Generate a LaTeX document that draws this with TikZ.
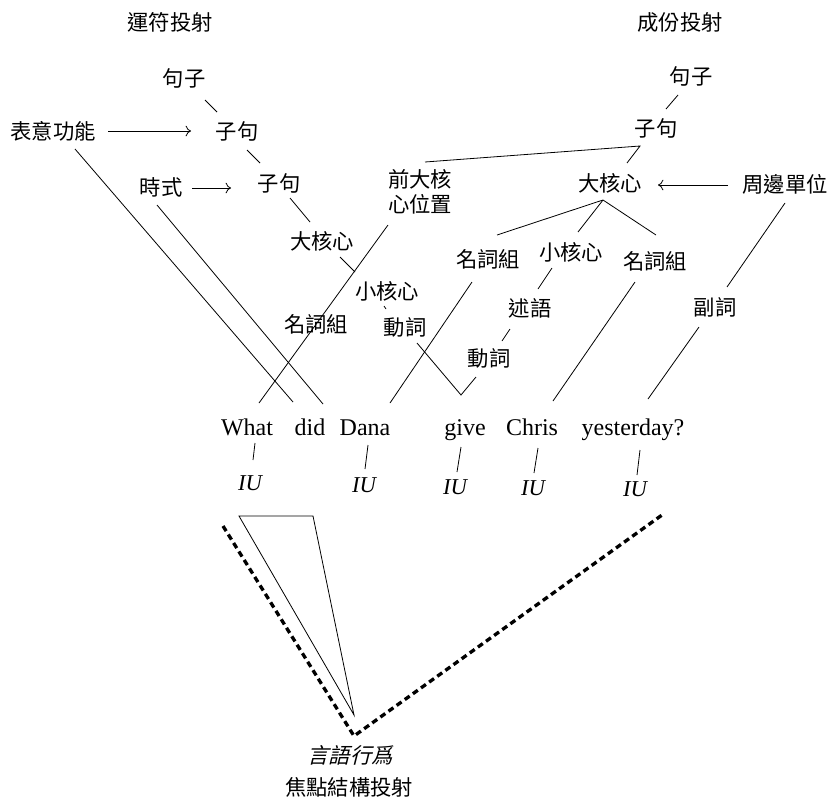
\documentclass[tikz,border=0pt]{standalone}
\usepackage{fontspec}
\setmainfont{Liberation Serif}
\newfontfamily\cjk{Noto Sans CJK TC}
\newfontfamily\cjkslant[FakeSlant=0.25]{Noto Sans CJK TC}
\usetikzlibrary{calc,arrows.meta}

\begin{document}
\begin{tikzpicture}[x=0.75pt, y=-0.75pt, line width=0.6pt,
	zh/.style={font=\cjk\fontsize{16}{18.75}\selectfont, inner sep=0pt, align=center},
	word/.style={font=\fontsize{18}{20}\selectfont, anchor=base, inner sep=0pt},
	iu/.style={font=\itshape\fontsize{17}{19}\selectfont, anchor=base, inner sep=0pt},
	feed/.style={-{To[length=4pt, width=8pt]}},
	focus/.style={line width=2.5pt, dash pattern=on 4.5pt off 3pt}]
	\useasboundingbox (0,0) rectangle (830,804);
	% titles
	\node[zh] (opproj) at (170,22) {運符投射};
	\node[zh] (conproj) at (680,22) {成份投射};
	% operator projection
	\node[zh] (lsent) at (184,78) {句子};
	\node[zh] (lcl1) at (237,131) {子句};
	\node[zh] (lcl2) at (279,183) {子句};
	\node[zh] (lcore) at (322,241) {大核心};
	\node[zh] (lnuc) at (387,291) {小核心};
	\node[zh] (lv) at (405,327) {動詞};
	\node[zh] (lnp) at (316,324) {名詞組};
	\node[zh] (illf) at (53,131) {表意功能};
	\node[zh] (tns) at (161,187) {時式};
	% constituent projection
	\node[zh] (rsent) at (691,76) {句子};
	\node[zh] (rcl) at (656,128) {子句};
	\node[zh] (precore) at (420,192) {前大核\\心位置};
	\node[zh] (rcore) at (610,183) {大核心};
	\node[zh] (periph) at (785,184) {周邊單位};
	\node[zh] (np1) at (488,259) {名詞組};
	\node[zh] (rnuc) at (571,252) {小核心};
	\node[zh] (np2) at (655,261) {名詞組};
	\node[zh] (pred) at (530,308) {述語};
	\node[zh] (rv) at (489,358) {動詞};
	\node[zh] (adv) at (715,307) {副詞};
	% sentence
	\node[word] (what) at (247,435) {What};
	\node[word] (did) at (310,435) {did};
	\node[word] (dana) at (365,435) {Dana};
	\node[word] (give) at (465,435) {give};
	\node[word] (chris) at (532,435) {Chris};
	\node[word] (yest) at (633,435) {yesterday?};
	\node[iu] (iu1) at (250,490) {IU};
	\node[iu] (iu2) at (364,492) {IU};
	\node[iu] (iu3) at (455,494) {IU};
	\node[iu] (iu4) at (533,495) {IU};
	\node[iu] (iu5) at (635,496) {IU};
	% focus structure projection
	\node[zh, font=\cjkslant\fontsize{16}{18.75}\selectfont] (speech) at (350,755) {言語行爲};
	\node[zh] (focproj) at (349,787) {焦點結構投射};

	\draw ($(lsent)+(21,22)$) -- ($(lcl1)+(-20,-19)$);
	\draw ($(lcl1)+(10,19)$) -- ($(lcl2)+(-19,-20)$);
	\draw ($(lcl2)+(11,15)$) -- ($(lcore)+(-12,-19)$);
	\draw ($(lcore)+(18,16)$) -- ($(lnuc)+(-32,-19)$);
	\draw ($(lnuc)+(-3,15)$) -- ($(lv)+(-19,-18)$);
	\draw ($(lv)+(12,16)$) -- ($(give.base)+(-4,-40)$) -- ($(rv)+(-13,19)$);
	\draw ($(rv)+(13,-17)$) -- ($(pred)+(-20,21)$);
	\draw ($(pred)+(8,-19)$) -- ($(rnuc)+(-19,16)$);
	\draw ($(np1)+(9,-24)$) -- ($(rcore)+(-7,17)$) -- ($(np2)+(1,-26)$);
	\draw ($(rcore)+(-7,17)$) -- ($(rnuc)+(7,-20)$);
	\draw ($(precore)+(5,-30)$) -- ($(rcl)+(-16,18)$) -- ($(rcore)+(17,-20)$);
	\draw ($(rsent)+(-13,19)$) -- ($(rcl)+(10,-19)$);
	\draw[feed] ($(illf)+(55,0)$) -- ($(lcl1)+(-46,0)$);
	\draw[feed] ($(tns)+(31,1)$) -- ($(lcl2)+(-48,5)$);
	\draw[feed] ($(periph)+(-57,1)$) -- ($(rcore)+(48,2)$);
	\draw ($(illf)+(22,18)$) -- ($(did.base)+(-17,-33)$);
	\draw ($(tns)+(-4,18)$) -- ($(did.base)+(13,-31)$);
	\draw ($(precore)+(-32,33)$) -- ($(what.base)+(12,-32)$);
	\draw ($(np1)+(-16,23)$) -- ($(dana.base)+(25,-32)$);
	\draw ($(np2)+(-20,21)$) -- ($(chris.base)+(21,-34)$);
	\draw ($(periph)+(0,19)$) -- ($(adv)+(12,-20)$);
	\draw ($(adv)+(-16,20)$) -- ($(yest.base)+(15,-36)$);
	\draw ($(what.base)+(8,8)$) -- ($(iu1.base)+(3,-30)$);
	\draw ($(dana.base)+(3,10)$) -- ($(iu2.base)+(1,-23)$);
	\draw ($(give.base)+(-4,12)$) -- ($(iu3.base)+(2,-22)$);
	\draw ($(chris.base)+(6,13)$) -- ($(iu4.base)+(1,-22)$);
	\draw ($(yest.base)+(7,15)$) -- ($(iu5.base)+(2,-21)$);

	\coordinate (tri) at ($(speech)+(4,-40)$);
	\coordinate (vtx) at ($(speech)+(4,-19)$);
	\draw (239,516) -- (313,516) -- (tri) -- cycle;
	\draw[focus] (223,526) -- (vtx) -- (662,515);
\end{tikzpicture}
\end{document}
